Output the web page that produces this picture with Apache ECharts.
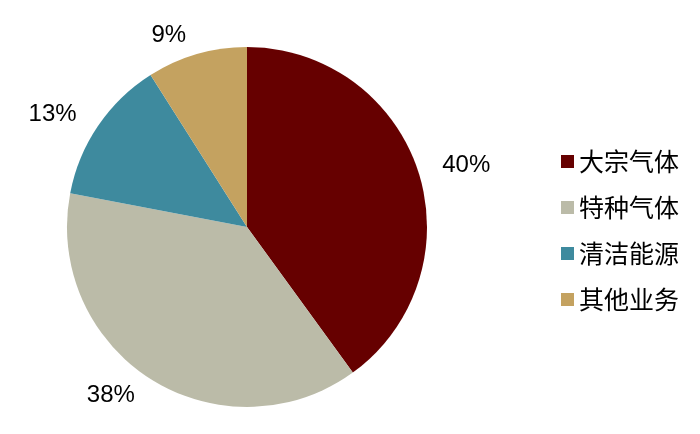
<!DOCTYPE html>
<html><head><meta charset="utf-8">
<script src="https://cdn.jsdelivr.net/npm/echarts@6/dist/echarts.min.js"></script>
<style>html,body{margin:0;padding:0;background:#fff}#c{width:700px;height:434px}</style>
</head><body><div id="c"></div>
<script>
const categories = ['大宗气体', '特种气体', '清洁能源', '其他业务'];
const values = [40, 38, 13, 9];
const colors = ['#660000', '#BBBBA8', '#3E8A9E', '#C4A260'];

const chart = echarts.init(document.getElementById('c'), null, {renderer: 'canvas'});
chart.setOption({
  animation: false,
  color: colors,
  legend: {
    orient: 'vertical',
    left: 556,
    top: 144,
    itemWidth: 13,
    itemHeight: 13,
    itemGap: 21,
    icon: 'rect',
    textStyle: {fontFamily: '"Noto Sans CJK SC"', fontSize: 25, color: '#000', padding: [0, 0, 0, 0]},
    data: categories
  },
  series: [{
    type: 'pie',
    center: [247, 227],
    radius: 180,
    startAngle: 90,
    clockwise: true,
    data: categories.map((n, i) => ({name: n, value: values[i]})),
    label: {
      show: true,
      position: 'outside',
      formatter: p => p.value + '%',
      fontFamily: '"Liberation Sans", Arial, sans-serif',
      fontSize: 24,
      color: '#000'
    },
    labelLine: {show: false, length: 20, length2: 0},
    emphasis: {disabled: true}
  }]
});
</script></body></html>
